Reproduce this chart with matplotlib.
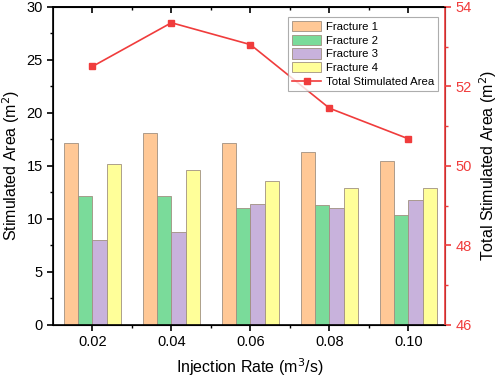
import matplotlib
matplotlib.use('Agg')
import matplotlib.pyplot as plt
from matplotlib.ticker import MultipleLocator

plt.rcParams['font.family'] = ['Liberation Sans', 'DejaVu Sans']

# Dados
rates = [0.02, 0.04, 0.06, 0.08, 0.10]
rate_labels = ['0.02', '0.04', '0.06', '0.08', '0.10']
fracture1 = [17.2, 18.1, 17.2, 16.3, 15.5]
fracture2 = [12.2, 12.2, 11.0, 11.3, 10.4]
fracture3 = [8.0, 8.8, 11.4, 11.0, 11.8]
fracture4 = [15.2, 14.6, 13.6, 12.9, 12.9]
total_area = [52.5, 53.6, 53.05, 51.45, 50.68]

series = [fracture1, fracture2, fracture3, fracture4]
names = ['Fracture 1', 'Fracture 2', 'Fracture 3', 'Fracture 4']
colors = ['#FFC896', '#7ADB9A', '#C8B2DC', '#FFFF99']
red = '#F03C3C'

fig = plt.figure(figsize=(4.98, 3.8), dpi=100)
ax = fig.add_axes([0.107, 0.145, 0.787, 0.837])

w = 0.0036
for i, (vals, nm, c) in enumerate(zip(series, names, colors)):
    pos = [r + (i - 1.5) * w for r in rates]
    ax.bar(pos, vals, width=w, color=c, edgecolor='#A09080', linewidth=0.6, label=nm)

ax.set_xlim(0.0101, 0.1093)
ax.set_ylim(0, 30)
ax.set_xticks(rates)
ax.set_xticklabels(rate_labels)
ax.xaxis.set_minor_locator(MultipleLocator(0.01))
ax.yaxis.set_minor_locator(MultipleLocator(2.5))
ax.tick_params(axis='both', labelsize=10.5, direction='out', width=1.2, length=4)
ax.tick_params(axis='both', which='minor', direction='out', width=1, length=2.5)
ax.set_xlabel('Injection Rate (m$^3$/s)', fontsize=11.5, labelpad=5)
ax.set_ylabel('Stimulated Area (m$^2$)', fontsize=11.5, labelpad=3)
for s in ['left', 'bottom', 'top']:
    ax.spines[s].set_linewidth(1.2)

# eixo superior só com ticks para dentro
top = ax.secondary_xaxis('top')
top.set_xticks(rates)
top.set_xticklabels([])
top.xaxis.set_minor_locator(MultipleLocator(0.01))
top.tick_params(direction='in', width=1.2, length=4)
top.tick_params(which='minor', direction='in', width=1, length=2.5)
top.spines['top'].set_linewidth(1.2)

ax2 = ax.twinx()
ln, = ax2.plot(rates, total_area, color=red, marker='s', markersize=5,
               linewidth=1.2, label='Total Stimulated Area')
ax2.set_ylim(46, 54)
ax2.yaxis.set_major_locator(MultipleLocator(2))
ax2.yaxis.set_minor_locator(MultipleLocator(1))
ax2.tick_params(axis='y', colors=red, labelsize=10.5, width=1.2, length=4)
ax2.tick_params(axis='y', which='minor', colors=red, width=1, length=2.5)
ax2.spines['right'].set_color(red)
ax2.spines['right'].set_linewidth(1.2)
ax2.set_ylabel('Total Stimulated Area (m$^2$)', fontsize=11.5, labelpad=4)

h1, l1 = ax.get_legend_handles_labels()
leg = ax2.legend(h1 + [ln], l1 + [ln.get_label()], loc='upper right',
                 fontsize=8.2, frameon=True, fancybox=False, edgecolor='#999999',
                 handlelength=2.6, handleheight=1.0, labelspacing=0.25,
                 borderpad=0.3, handletextpad=0.4, bbox_to_anchor=(0.995, 0.985))
leg.get_frame().set_linewidth(0.8)

fig.savefig('out.png', dpi=100)
